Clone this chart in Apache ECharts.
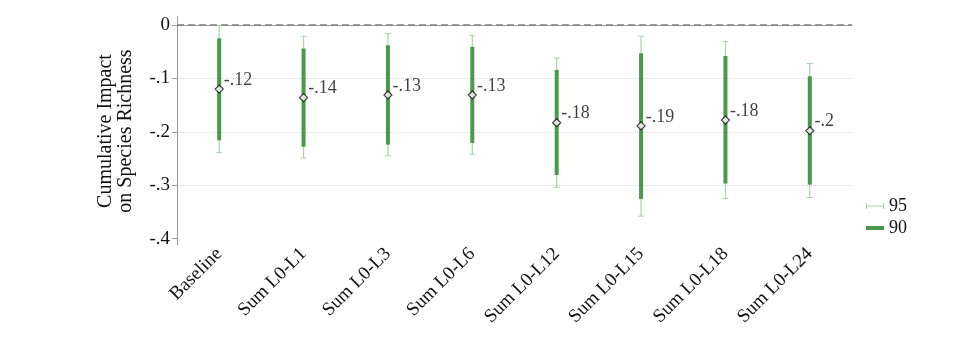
<!DOCTYPE html>
<html><head><meta charset="utf-8">
<script src="https://cdn.jsdelivr.net/npm/echarts@6/dist/echarts.min.js"></script>
<style>html,body{margin:0;padding:0;background:#fff}#c{width:977px;height:357px}</style>
</head><body><div id="c"></div>
<script>
const categories = ['Baseline','Sum L0-L1','Sum L0-L3','Sum L0-L6','Sum L0-L12','Sum L0-L15','Sum L0-L18','Sum L0-L24'];
const estimates = [-0.120,-0.136,-0.131,-0.131,-0.183,-0.189,-0.178,-0.198];
const ci90Low  = [-0.216,-0.228,-0.224,-0.221,-0.281,-0.326,-0.297,-0.299];
const ci90High = [-0.025,-0.044,-0.038,-0.041,-0.084,-0.053,-0.058,-0.096];
const ci95Low  = [-0.239,-0.249,-0.245,-0.242,-0.304,-0.358,-0.325,-0.323];
const ci95High = [-0.001,-0.021,-0.016,-0.020,-0.062,-0.021,-0.031,-0.072];
const yTicks = [0,-0.1,-0.2,-0.3,-0.4];

const FONT = 'Liberation Serif';
const C90 = '#4a984a';
const C95 = '#a9d3a9';

function fmt(v){ return Number(v.toFixed(2)).toString().replace('0.', '.'); }

function ciRender(color, width, cap){
  return function(params, api){
    const x = api.value(0);
    const lo = api.coord([x, api.value(1)]);
    const hi = api.coord([x, api.value(2)]);
    const ch = [{type:'line', shape:{x1:lo[0],y1:lo[1],x2:hi[0],y2:hi[1]}, style:{stroke:color,lineWidth:width}}];
    if (cap){
      ch.push({type:'line', shape:{x1:lo[0]-cap,y1:lo[1],x2:lo[0]+cap,y2:lo[1]}, style:{stroke:color,lineWidth:1}});
      ch.push({type:'line', shape:{x1:hi[0]-cap,y1:hi[1],x2:hi[0]+cap,y2:hi[1]}, style:{stroke:color,lineWidth:1}});
    }
    return {type:'group', children:ch};
  };
}

const chart = echarts.init(document.getElementById('c'), null, {renderer:'canvas'});
chart.setOption({
  animation:false,
  textStyle:{fontFamily:FONT},
  grid:{left:177,right:125,top:17,bottom:112,containLabel:false},
  legend:[
    {data:[{name:'95',icon:'path://M0,0h1v6h-1z M0,2.5h18v1h-18z M17,0h1v6h-1z'}],
     orient:'vertical', left:861, top:192, itemWidth:18, itemHeight:6, itemGap:8,
     textStyle:{fontFamily:FONT,fontSize:18,color:'#111'}},
    {data:[{name:'90',icon:'rect'}],
     orient:'vertical', left:861, top:214, itemWidth:18, itemHeight:4, itemGap:8,
     textStyle:{fontFamily:FONT,fontSize:18,color:'#111'}}
  ],
  xAxis:{
    type:'category', data:categories, boundaryGap:true,
    axisLine:{lineStyle:{color:'#999',width:1}},
    axisTick:{alignWithLabel:true,length:4,lineStyle:{color:'#999'}},
    axisLabel:{rotate:45,fontFamily:FONT,fontSize:19,color:'#111',margin:6,interval:0},
    splitLine:{show:false}
  },
  yAxis:{
    type:'value', min:-0.412, max:0.015,
    name:'Cumulative Impact\non Species Richness', nameLocation:'middle', nameGap:41,
    nameTextStyle:{fontFamily:FONT,fontSize:20,color:'#111',lineHeight:20},
    axisLine:{show:true,lineStyle:{color:'#999',width:1}},
    axisTick:{show:true,length:5,lineStyle:{color:'#999'},customValues:yTicks},
    axisLabel:{fontFamily:FONT,fontSize:19,color:'#111',margin:7,customValues:yTicks,
      formatter:function(v){ return v===0 ? '0' : fmt(v); }},
    splitLine:{show:true,showMinLine:false,showMaxLine:false,lineStyle:{color:'#d8d8d8',type:'dotted',width:1}}
  },
  series:[
    {name:'95', type:'custom', itemStyle:{color:C95},
     renderItem: ciRender(C95, 1.2, 3),
     encode:{x:0,y:[1,2]},
     data: categories.map((c,i)=>[i, ci95Low[i], ci95High[i]]), z:2},
    {name:'90', type:'custom', itemStyle:{color:C90},
     renderItem: ciRender(C90, 4, 0),
     encode:{x:0,y:[1,2]},
     data: categories.map((c,i)=>[i, ci90Low[i], ci90High[i]]), z:3},
    {name:'est', type:'scatter', symbol:'diamond', symbolSize:8, z:5,
     itemStyle:{color:'#fff',borderColor:'#111',borderWidth:1.2},
     label:{show:true,position:'right',distance:0,offset:[0,-9],fontFamily:FONT,fontSize:18,color:'#111',
       formatter:function(p){ return fmt(p.value[1]); }},
     data: categories.map((c,i)=>[i, estimates[i]]),
     markLine:{silent:true,symbol:'none',label:{show:false},
       lineStyle:{color:'#808080',width:1.5,type:[7,4]},
       data:[{yAxis:0}]}}
  ]
});
</script></body></html>
